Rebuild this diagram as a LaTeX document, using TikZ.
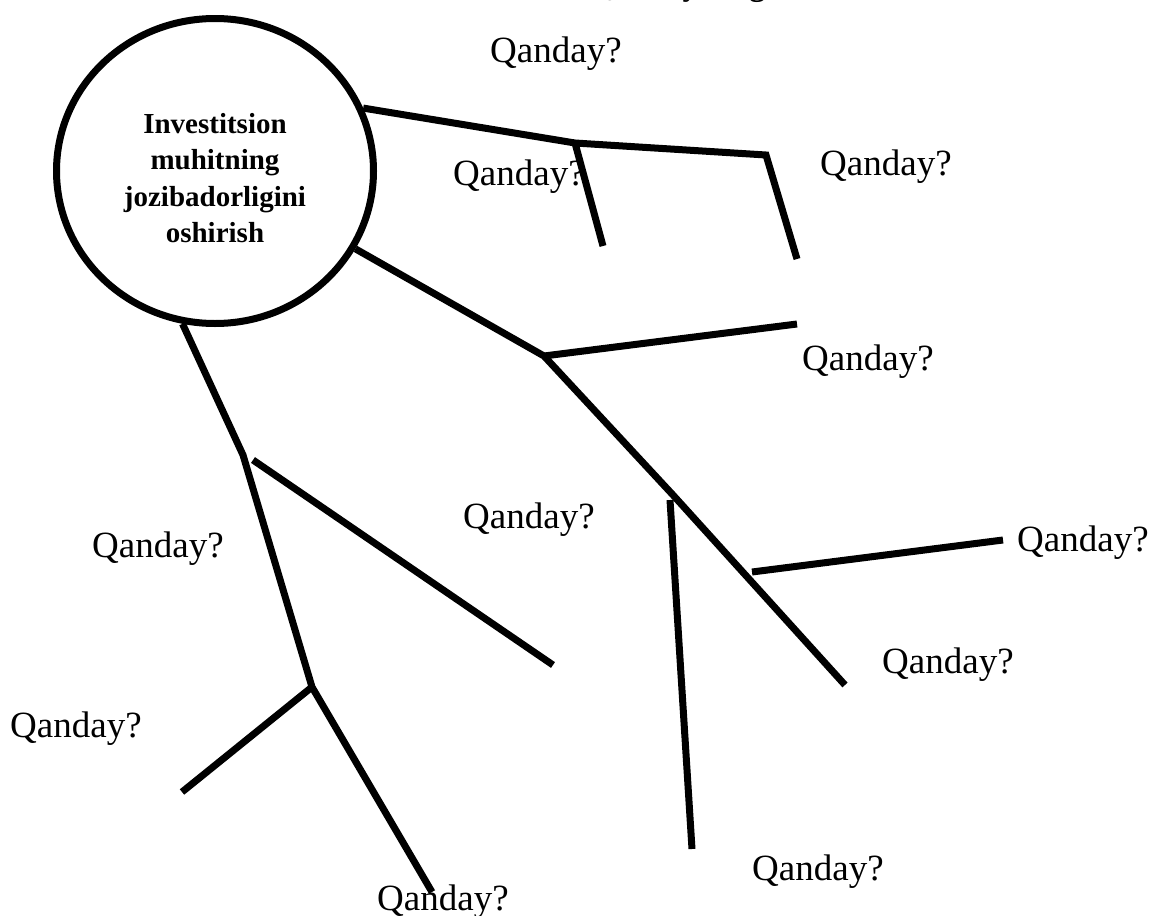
\documentclass[tikz,border=0pt]{standalone}
\usepackage{fontspec}
\setmainfont{Liberation Serif}
\usetikzlibrary{shapes.geometric}
\begin{document}
\begin{tikzpicture}[x=1pt,y=-1pt,
  ln/.style={line width=7pt, line cap=butt, line join=miter},
  q/.style={font=\fontsize{37}{40}\selectfont, anchor=base west, inner sep=0pt},
  goalstyle/.style={ellipse, draw, line width=7pt, minimum width=317pt, minimum height=305pt, inner sep=0pt},
  goaltxt/.style={align=center, inner sep=0pt, font=\bfseries\fontsize{29}{36.5}\selectfont}
]
\useasboundingbox (0,0) rectangle (1152,916);
\clip (0,0) rectangle (1152,916);
\fill[white] (0,0) rectangle (1152,916);

% cut-off title
\node[anchor=base west, inner sep=0pt, font=\bfseries\fontsize{32}{36}\selectfont] (title) at (590,-4.5) {Qanday diagrammasi};

% central goal
\node[goalstyle] (goal) at (215,171) {};
\node[goaltxt] (goaltext) at (215,178) {Investitsion\\muhitning\\jozibadorligini\\oshirish};

% junction coordinates
\coordinate (a1) at (575,143);
\coordinate (a2) at (766,155);
\coordinate (a3) at (797,259);
\coordinate (a4) at (603,246);

\coordinate (c1) at (544,356);
\coordinate (c2) at (797,324);
\coordinate (c3) at (673,495);
\coordinate (c4) at (845,685);
\coordinate (c5) at (692,849);
\coordinate (c6) at (752,572);
\coordinate (c7) at (1003,540);
\coordinate (c8) at (670,500);

\coordinate (d1) at (243,455);
\coordinate (d2) at (312,687);
\coordinate (d3) at (182,792);
\coordinate (d4) at (432,892);
\coordinate (d5) at (253,460);
\coordinate (d6) at (553,665);

% branch 1
\draw[ln] (goal.23) -- (a1) -- (a2) -- (a3);
\draw[ln] (a1) -- (a4);
% branch 2
\draw[ln] (goal.-29) -- (c1) -- (c3) -- (c4);
\draw[ln] (c1) -- (c2);
\draw[ln] (c8) -- (c5);
\draw[ln] (c6) -- (c7);
% branch 3
\draw[ln] (goal.-102) -- (d1) -- (d2) -- (d4);
\draw[ln] (d2) -- (d3);
\draw[ln] (d5) -- (d6);

% labels
\node[q] (l1) at (490,62) {Qanday?};
\node[q] (l2) at (453,185) {Qanday?};
\node[q] (l3) at (820,175) {Qanday?};
\node[q] (l4) at (802,370) {Qanday?};
\node[q] (l5) at (463,528) {Qanday?};
\node[q] (l6) at (1017,551) {Qanday?};
\node[q] (l7) at (92,557) {Qanday?};
\node[q] (l8) at (882,673) {Qanday?};
\node[q] (l9) at (10,737) {Qanday?};
\node[q] (l10) at (752,880) {Qanday?};
\node[q] (l11) at (377,910) {Qanday?};
\end{tikzpicture}
\end{document}
